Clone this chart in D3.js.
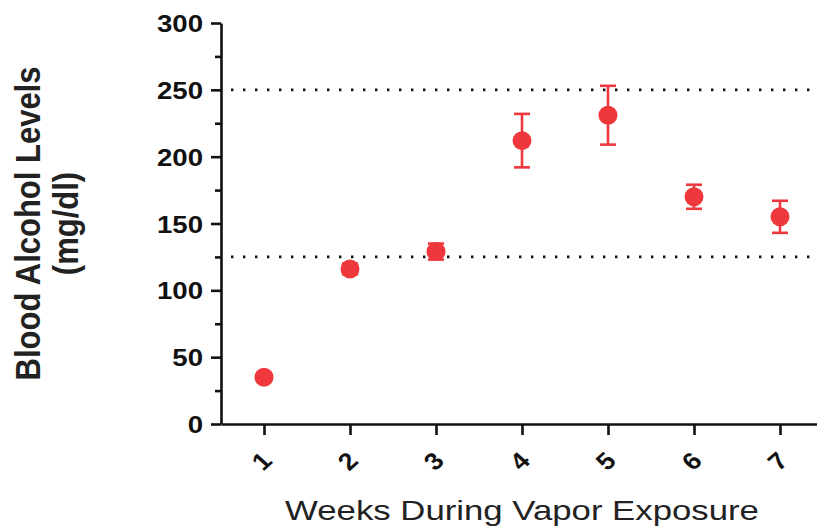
<!DOCTYPE html>
<html>
<head>
<meta charset="utf-8">
<script src="https://cdn.jsdelivr.net/npm/d3@7"></script>
<style>
body { margin: 0; background: #fff; }
svg { display: block; font-family: Arial, "Liberation Sans", sans-serif; }
</style>
</head>
<body>
<svg></svg>
<script>
const weeks = [1, 2, 3, 4, 5, 6, 7];
const means = [35, 116, 129, 212, 231, 170, 155];
const sems = [3, 4, 6, 20, 22, 9, 12];
const refLines = [125, 250];
const majorTicks = [0, 50, 100, 150, 200, 250, 300];
const minorTicks = [25, 75, 125, 175, 225, 275];

const width = 817;
const height = 531;
const red = '#ef383e';
const font = 'Arial, "Liberation Sans", sans-serif';

const svg = d3.select('svg')
    .attr('width', width)
    .attr('height', height);

const xScale = d3.scaleLinear()
    .domain([0.5, 7.5])
    .range([221, 823]);

const yScale = d3.scaleLinear()
    .domain([0, 300])
    .range([424, 23]);

const values = weeks.map((w, i) => ({week: w, mean: means[i], sem: sems[i]}));

// dotted reference lines
svg.selectAll('.ref')
    .data(refLines)
    .enter()
    .append('line')
    .attr('class', 'ref')
    .attr('x1', xScale.range()[0] + 10)
    .attr('x2', width)
    .attr('y1', d => yScale(d))
    .attr('y2', d => yScale(d))
    .attr('stroke', '#111')
    .attr('stroke-width', 2.6)
    .attr('stroke-dasharray', '2.4 9.6');

// axes
const yAxis = d3.axisLeft(yScale)
    .tickValues(majorTicks)
    .tickSize(10)
    .tickSizeOuter(0)
    .tickPadding(0);

const yMinor = d3.axisLeft(yScale)
    .tickValues(minorTicks)
    .tickSize(6)
    .tickSizeOuter(0)
    .tickFormat('');

const xAxis = d3.axisBottom(xScale)
    .tickValues(weeks)
    .tickSize(11)
    .tickSizeOuter(0)
    .tickFormat('');

const gx = svg.append('g')
    .attr('transform', 'translate(0,' + yScale(0) + ')')
    .call(xAxis);

gx.selectAll('.tick')
    .append('text')
    .attr('fill', '#111')
    .attr('font-family', font)
    .attr('font-size', 24)
    .attr('font-weight', 'bold')
    .attr('text-anchor', 'middle')
    .attr('dy', '0.35em')
    .attr('transform', 'translate(-3,37) scale(1.12,1) rotate(-45)')
    .text(d => d);

const gyMinor = svg.append('g')
    .attr('transform', 'translate(' + xScale(0.5) + ',0)')
    .call(yMinor);
gyMinor.select('.domain').remove();

const gy = svg.append('g')
    .attr('transform', 'translate(' + xScale(0.5) + ',0)')
    .call(yAxis);

gy.selectAll('.tick text')
    .attr('x', 0)
    .attr('dy', '0.36em')
    .attr('fill', '#111')
    .attr('font-size', 24)
    .attr('font-weight', 'bold')
    .attr('font-family', font)
    .attr('transform', 'translate(-18,0) scale(1.15,1)');

svg.selectAll('.domain, .tick line')
    .attr('stroke', '#111')
    .attr('stroke-width', 2.6);

// error bars
const bars = svg.selectAll('.err')
    .data(values)
    .enter()
    .append('g')
    .attr('class', 'err')
    .attr('stroke', red)
    .attr('stroke-width', 2.6);

bars.append('line')
    .attr('x1', d => xScale(d.week))
    .attr('x2', d => xScale(d.week))
    .attr('y1', d => yScale(d.mean + d.sem))
    .attr('y2', d => yScale(d.mean - d.sem));

bars.append('line')
    .attr('x1', d => xScale(d.week) - 8)
    .attr('x2', d => xScale(d.week) + 8)
    .attr('y1', d => yScale(d.mean + d.sem))
    .attr('y2', d => yScale(d.mean + d.sem));

bars.append('line')
    .attr('x1', d => xScale(d.week) - 8)
    .attr('x2', d => xScale(d.week) + 8)
    .attr('y1', d => yScale(d.mean - d.sem))
    .attr('y2', d => yScale(d.mean - d.sem));

// points
svg.selectAll('.pt')
    .data(values)
    .enter()
    .append('circle')
    .attr('class', 'pt')
    .attr('cx', d => xScale(d.week))
    .attr('cy', d => yScale(d.mean))
    .attr('r', 9.5)
    .attr('fill', red);

// axis titles
const yMid = (yScale(0) + yScale(300)) / 2;

svg.append('text')
    .attr('transform', 'translate(40,' + yMid + ') scale(1.15,1) rotate(-90)')
    .attr('text-anchor', 'middle')
    .attr('font-size', 31)
    .attr('font-weight', 'bold')
    .attr('fill', '#222')
    .text('Blood Alcohol Levels');

svg.append('text')
    .attr('transform', 'translate(78,' + yMid + ') scale(1.15,1) rotate(-90)')
    .attr('text-anchor', 'middle')
    .attr('font-size', 31)
    .attr('font-weight', 'bold')
    .attr('fill', '#222')
    .text('(mg/dl)');

svg.append('text')
    .attr('transform', 'translate(' + (xScale(1) + xScale(7)) / 2 + ',520) scale(1.22,1)')
    .attr('text-anchor', 'middle')
    .attr('font-size', 28.5)
    .attr('fill', '#222')
    .text('Weeks During Vapor Exposure');
</script>
</body>
</html>
